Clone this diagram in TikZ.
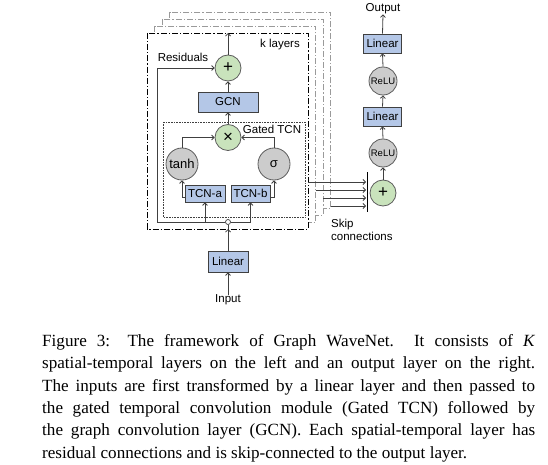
\documentclass[tikz,border=0pt]{standalone}
\usepackage{fontspec}
\setmainfont{Liberation Serif}
\newfontfamily\diagfont{Liberation Sans}
\usetikzlibrary{arrows.meta,calc}
\definecolor{boxblue}{HTML}{B4C7E7}
\definecolor{cgreen}{HTML}{C9E3BC}
\definecolor{cgray}{HTML}{CCCCCC}
\definecolor{lnc}{HTML}{404040}
\definecolor{frmgray}{HTML}{9A9A9A}
\begin{document}
\begin{tikzpicture}[x=1pt,y=-1pt,
  lbl/.style={font=\diagfont\fontsize{11.5}{13}\selectfont, inner sep=0},
  blk/.style={draw=lnc, fill=boxblue, line width=0.8pt, inner sep=0, font=\diagfont\fontsize{11.5}{13}\selectfont},
  opg/.style={circle, draw=lnc!85, fill=cgreen, line width=0.8pt, minimum size=26pt, inner sep=0, font=\diagfont\fontsize{17}{18}\selectfont},
  act/.style={circle, draw=lnc!85, fill=cgray, line width=0.8pt, minimum size=32pt, inner sep=0, font=\diagfont\fontsize{13}{14}\selectfont},
  relu/.style={act, minimum size=28pt, font=\diagfont\fontsize{9.5}{10}\selectfont},
  arr/.style={draw=lnc, line width=0.8pt, -{Straight Barb[length=2.5pt,width=5pt]}},
  ln/.style={draw=lnc, line width=0.8pt},
  frm/.style={dash pattern=on 6pt off 2pt on 1.2pt off 2pt, line width=0.7pt, fill=white},
]
\useasboundingbox (0,0) rectangle (548,465);

% stacked layer frames (back to front)
\draw[frm, draw=frmgray] (169.5,12) rectangle (330.5,208);
\draw[frm, draw=frmgray] (162,19) rectangle (323,215);
\draw[frm, draw=frmgray] (154.5,26) rectangle (315.5,222);
\draw[frm, draw=black] (147,33) rectangle (308,229);

% gated TCN box
\draw[densely dotted, draw=lnc, line width=0.6pt] (163,122) rectangle (305,217);
\node[lbl] (gtcn) at (272,129) {Gated TCN};
\node[lbl] (klay) at (280,45) {k layers};
\node[lbl] (resl) at (183,57) {Residuals};

% nodes of a layer
\node[opg] (plus) at (228,68) {+};
\node[blk, minimum width=60pt, minimum height=20pt] (gcn) at (228,102) {GCN};
\node[opg] (mul) at (228,137.5) {×};
\node[act] (tanh) at (182,164) {tanh};
\node[act] (sig) at (274,164) {σ};
\node[blk, minimum width=40pt, minimum height=17pt] (tcna) at (205,193.5) {TCN-a};
\node[blk, minimum width=39pt, minimum height=17pt] (tcnb) at (250.5,193.5) {TCN-b};
\node[circle, draw=lnc, fill=white, line width=0.7pt, minimum size=5pt, inner sep=0] (junc) at (228,222) {};

% input
\node[blk, minimum width=40pt, minimum height=21pt] (lin0) at (228,261.5) {Linear};
\node[lbl] (inp) at (228,300) {Input};
\coordinate (fbot) at (228,229);
\coordinate (ftop) at (228,33);

\draw[arr] (inp.north) -- (lin0.south);
\draw[arr] (lin0.north) -- (fbot);
\draw[ln] (fbot) -- (junc.south);
\draw[arr] (junc.west) -- (157,222) -- (157,68) -- (plus.west);
\draw[arr] (junc.west) -| (tcna.south);
\draw[arr] (junc.east) -| (tcnb.south);
\draw[arr] (tcna.west |- 0,197) -- (182,197) -- (tanh.south);
\draw[arr] (tcnb.east |- 0,197) -- (274,197) -- (sig.south);
\draw[arr] (tanh.north) |- (mul.west);
\draw[arr] (sig.north) |- (mul.east);
\draw[arr] (mul.north) -- (gcn.south);
\draw[arr] (gcn.north) -- (plus.south);
\draw[arr] (plus.north) -- (ftop);

% skip connections
\coordinate (s0) at (308,182);
\coordinate (s1) at (315.5,190);
\coordinate (s2) at (323,198);
\coordinate (s3) at (330.5,206);
\coordinate (bt) at (367,172);
\coordinate (bb) at (367,212);
\draw[draw=black, line width=0.8pt] (bt) -- (bb);
\foreach \s in {s0,s1,s2,s3}{
  \draw[arr] (\s) -- (\s -| 366,0);
}
\node[lbl, align=left, anchor=north west, font=\diagfont\fontsize{11.5}{13}\selectfont] (skl) at (331,219) {Skip\\connections};

% output layer
\node[opg] (splus) at (383,193) {+};
\node[relu] (relu1) at (383,153) {ReLU};
\node[blk, minimum width=38pt, minimum height=19pt] (lin1) at (382.5,116.5) {Linear};
\node[relu] (relu2) at (383,81) {ReLU};
\node[blk, minimum width=38pt, minimum height=19pt] (lin2) at (382.5,43.5) {Linear};
\node[lbl] (outp) at (383,9) {Output};
\draw[arr] (splus.north) -- (relu1.south);
\draw[arr] (relu1.north) -- (lin1.south);
\draw[arr] (lin1.north) -- (relu2.south);
\draw[arr] (relu2.north) -- (lin2.south);
\draw[arr] (lin2.north) -- (outp.south);

% caption
\node[anchor=north west, inner sep=0, text width=493pt, align=justify,
      font=\fontsize{17.1}{22.4}\selectfont] (cap) at (42,334)
{Figure 3: The framework of Graph WaveNet.\ \ It consists of \textit{K}\linebreak
spatial-temporal layers on the left and an output layer on the right.\linebreak
The inputs are first transformed by a linear layer and then passed to\linebreak
the gated temporal convolution module (Gated TCN) followed by\linebreak
the graph convolution layer (GCN). Each spatial-temporal layer has\linebreak
residual connections and is skip-connected to the output layer.};
\end{tikzpicture}
\end{document}
